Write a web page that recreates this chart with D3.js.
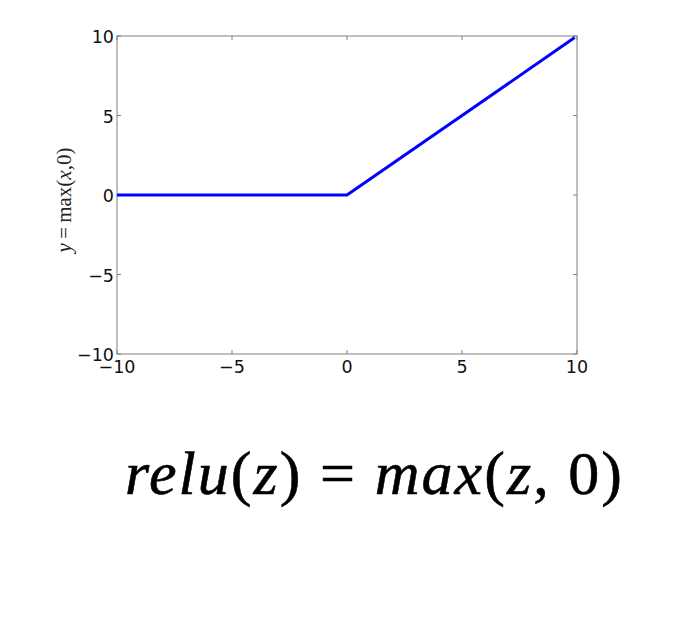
<!DOCTYPE html>
<html><head><meta charset="utf-8">
<script src="https://cdn.jsdelivr.net/npm/d3@7"></script>
<style>body{margin:0;background:#fff;}svg{display:block;}</style>
</head><body>
<script>
const xData = [-10, 0, 9.9];
const yData = [0, 0, 9.9];
const xTicks = [-10, -5, 0, 5, 10];
const yTicks = [-10, -5, 0, 5, 10];

const W = 678, H = 626;
const m = {left: 117, right: 577, top: 36, bottom: 354};
const svg = d3.select("body").append("svg").attr("width", W).attr("height", H);

const x = d3.scaleLinear().domain([-10, 10]).range([m.left, m.right]);
const y = d3.scaleLinear().domain([-10, 10]).range([m.bottom, m.top]);
const fmt = d => d < 0 ? "\u2212" + Math.abs(d) : String(d);
const frameCol = "#808080";

svg.append("rect").attr("x", m.left).attr("y", m.top)
  .attr("width", m.right - m.left).attr("height", m.bottom - m.top)
  .attr("fill", "none").attr("stroke", frameCol).attr("stroke-width", 1);

const tl = 4;
xTicks.forEach(t => {
  svg.append("line").attr("x1", x(t)).attr("x2", x(t)).attr("y1", m.bottom).attr("y2", m.bottom - tl).attr("stroke", frameCol);
  svg.append("line").attr("x1", x(t)).attr("x2", x(t)).attr("y1", m.top).attr("y2", m.top + tl).attr("stroke", frameCol);
  svg.append("text").attr("x", x(t)).attr("y", m.bottom + 19).attr("text-anchor", "middle")
    .attr("font-family", "DejaVu Sans").attr("font-size", 17.5).attr("fill", "#111").text(fmt(t));
});
yTicks.forEach(t => {
  svg.append("line").attr("y1", y(t)).attr("y2", y(t)).attr("x1", m.left).attr("x2", m.left + tl).attr("stroke", frameCol);
  svg.append("line").attr("y1", y(t)).attr("y2", y(t)).attr("x1", m.right).attr("x2", m.right - tl).attr("stroke", frameCol);
  svg.append("text").attr("x", m.left - 3).attr("y", y(t) + 7).attr("text-anchor", "end")
    .attr("font-family", "DejaVu Sans").attr("font-size", 17.5).attr("fill", "#111").text(fmt(t));
});

const pts = xData.map((d, i) => [d, yData[i]]);
svg.append("path").datum(pts)
  .attr("d", d3.line().x(d => x(d[0])).y(d => y(d[1])))
  .attr("fill", "none").attr("stroke", "#0000ff").attr("stroke-width", 3);

const yl = svg.append("text").attr("transform", `translate(71,${(m.top + m.bottom) / 2 + 5}) rotate(-90)`)
  .attr("text-anchor", "middle").attr("font-family", "Liberation Serif, DejaVu Serif, serif")
  .attr("font-size", 21).attr("fill", "#222");
yl.append("tspan").attr("font-style", "italic").text("y");
yl.append("tspan").text("\u2009=\u2009max(");
yl.append("tspan").attr("font-style", "italic").text("x");
yl.append("tspan").text(",0)");

const f = svg.append("text").attr("x", 125).attr("y", 494)
  .attr("font-family", "Liberation Serif, DejaVu Serif, serif")
  .attr("font-size", 62).attr("fill", "#000").attr("stroke", "#000").attr("stroke-width", 0.6)
  .attr("textLength", 497).attr("lengthAdjust", "spacing");
const parts = [["relu", true], ["(", false], ["z", true], [") = ", false], ["max", true], ["(", false], ["z", true], [", 0)", false]];
parts.forEach(p => f.append("tspan").attr("font-style", p[1] ? "italic" : "normal").text(p[0]));
</script>
</body></html>
